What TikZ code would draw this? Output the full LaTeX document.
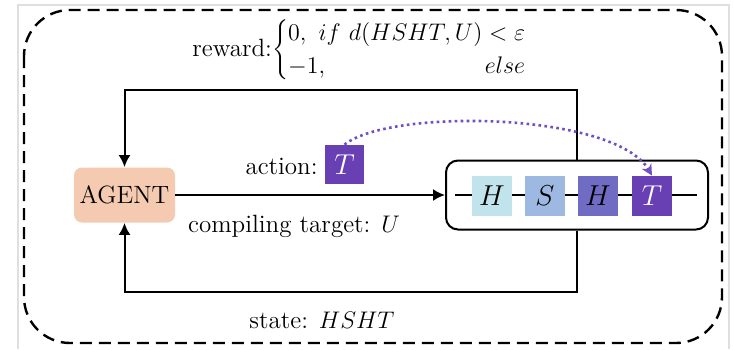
\documentclass[tikz,border=0pt]{standalone}
\usetikzlibrary{arrows.meta}
\definecolor{agentc}{RGB}{244,203,176}
\definecolor{gH}{RGB}{193,228,236}
\definecolor{gS}{RGB}{157,185,225}
\definecolor{gHH}{RGB}{112,108,196}
\definecolor{gT}{RGB}{104,64,180}
\definecolor{dotc}{RGB}{110,80,195}
\tikzset{
  line/.style={line width=1pt},
  arr/.style={line width=1pt,-{Latex[length=6pt,width=6pt]}},
  gate/.style={minimum width=20pt,minimum height=20pt,inner sep=0pt,font=\fontsize{13.5}{16}\selectfont},
  lbl/.style={font=\fontsize{12.5}{15}\selectfont,inner sep=0pt},
}
\begin{document}
\begin{tikzpicture}[x=0.5pt,y=-0.5pt]
\useasboundingbox (0,0) rectangle (734,349);
% faint screenshot frame
\draw[gray!25,line width=0.8pt] (18,349) -- (18,5) -- (729,5) -- (729,349);
% outer dashed frame
\draw[line width=1.2pt,dash pattern=on 6pt off 3.5pt,rounded corners=23pt] (24,10) rectangle (722,343);
% nodes
\node[fill=agentc,rounded corners=4pt,minimum width=50.5pt,minimum height=27.5pt,inner sep=0pt,lbl] (agent) at (124.5,195) {AGENT};
\node[draw,line width=1pt,rounded corners=6pt,minimum width=131pt,minimum height=34.5pt,inner sep=0pt] (circ) at (577,195) {};
\coordinate (wl) at (455,195);
\coordinate (wr) at (697,195);
\draw[line] (wl) -- (wr);
\node[gate,fill=gH] (g1) at (492,196) {$H$};
\node[gate,fill=gS] (g2) at (545,196) {$S$};
\node[gate,fill=gHH] (g3) at (598,196) {$H$};
\node[gate,fill=gT,text=white] (g4) at (652,196) {$T$};
\node[gate,fill=gT,text=white,minimum width=19.5pt,minimum height=19.5pt] (act) at (344.5,164.5) {$T$};
% loop
\coordinate (tr) at (577,90);
\coordinate (br) at (577,292);
\draw[arr] (circ.north) -- (tr) -- (agent.north |- tr) -- (agent.north);
\draw[arr] (circ.south) -- (br) -- (agent.south |- br) -- (agent.south);
\draw[arr] (agent.east) -- (circ.west);
% dotted action arrow
\draw[dotc,line width=1.3pt,dash pattern=on 1.3pt off 1.7pt,-{Stealth[length=5.5pt,width=5.5pt]}] (act.north) .. controls (390,108) and (615,112) .. (g4.north);
% labels
\node[lbl,anchor=east] (actl) at (318,166) {action:};
\node[lbl] (comp) at (294,226) {compiling target: $U$};
\node[lbl] (state) at (322,320) {state: $HSHT$};
\node[lbl] (rew) at (360,50) {reward:$\left\{\renewcommand\arraystretch{1.1}\begin{array}{@{}l@{}}0,\ if\ d(HSHT,U)<\varepsilon\\ -1,\hfill else\end{array}\right.$};
\end{tikzpicture}
\end{document}
